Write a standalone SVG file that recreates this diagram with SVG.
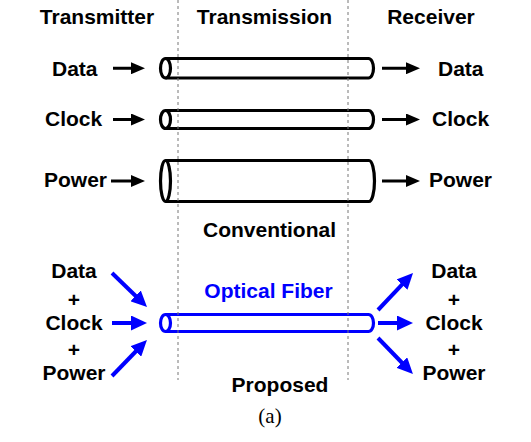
<svg xmlns="http://www.w3.org/2000/svg" width="531" height="442" viewBox="0 0 531 442">
  <style>
    .lbl { font-family: "Liberation Sans", Arial, sans-serif; font-weight: bold; font-size: 21px; fill: #000; }
    .mid { text-anchor: middle; }
    .blue { fill: #0000ff; }
    .pipe { fill: none; stroke: #000; stroke-width: 3.2; stroke-linejoin: round; }
    .fiber { fill: none; stroke: #0000ff; stroke-width: 3.2; stroke-linejoin: round; }
    .arr { stroke: #000; stroke-width: 3; fill: none; marker-end: url(#headK); }
    .barr { stroke: #0000ff; stroke-width: 4; fill: none; marker-end: url(#headB); }
    .divider { stroke: #777; stroke-width: 1; stroke-dasharray: 3 3; }
  </style>
  <defs>
    <marker id="headK" markerUnits="userSpaceOnUse" markerWidth="14" markerHeight="12" refX="2" refY="6" orient="auto">
      <path d="M0,0 L14,6 L0,12 z" fill="#000"/>
    </marker>
    <marker id="headB" markerUnits="userSpaceOnUse" markerWidth="16" markerHeight="15" refX="2" refY="7.5" orient="auto">
      <path d="M0,0 L16,7.5 L0,15 z" fill="#0000ff"/>
    </marker>
  </defs>
  <rect width="531" height="442" fill="#fff"/>

  <!-- column headings -->
  <text class="lbl mid" x="97" y="24">Transmitter</text>
  <text class="lbl mid" x="264.5" y="24">Transmission</text>
  <text class="lbl mid" x="431" y="24">Receiver</text>

  <!-- conventional: three separate channels -->
  <g id="pipe-data">
    <path class="pipe" d="M165.5,58.5 H368.5 A5,9.75 0 0 1 368.5,78 H165.5"/>
    <ellipse class="pipe" cx="165.5" cy="68.25" rx="5" ry="9.75"/>
  </g>
  <g id="pipe-clock">
    <path class="pipe" d="M165.5,110.5 H368.5 A5,9 0 0 1 368.5,128.5 H165.5"/>
    <ellipse class="pipe" cx="165.5" cy="119.5" rx="5" ry="9"/>
  </g>
  <g id="pipe-power">
    <path class="pipe" d="M165.5,160.5 H369 A5.5,20.5 0 0 1 369,201.5 H165.5"/>
    <ellipse class="pipe" cx="165.5" cy="181" rx="5" ry="20.5"/>
  </g>

  <!-- proposed: single optical fiber -->
  <g id="pipe-fiber">
    <path class="fiber" d="M165.5,314.5 H368.5 A5,8.5 0 0 1 368.5,331.5 H165.5"/>
    <ellipse class="fiber" cx="165.5" cy="323" rx="5" ry="8.5"/>
  </g>

  <!-- section dividers -->
  <g id="dividers">
    <line class="divider" x1="178" y1="0" x2="178" y2="380"/>
    <line class="divider" x1="348" y1="0" x2="348" y2="380"/>
  </g>

  <g id="tx-conventional">
    <text class="lbl" x="52" y="76">Data</text>
    <text class="lbl" x="45" y="126">Clock</text>
    <text class="lbl" x="44" y="187">Power</text>
  </g>
  <g id="rx-conventional">
    <text class="lbl" x="438" y="76">Data</text>
    <text class="lbl" x="432" y="126">Clock</text>
    <text class="lbl" x="429" y="187">Power</text>
  </g>

  <text class="lbl mid" x="269.5" y="237">Conventional</text>
  <text class="lbl mid blue" x="268.5" y="298">Optical Fiber</text>
  <text class="lbl mid" x="280" y="392">Proposed</text>

  <g id="tx-proposed">
    <text class="lbl mid" x="74" y="278">Data</text>
    <text class="lbl mid" x="74" y="307">+</text>
    <text class="lbl mid" x="74" y="330">Clock</text>
    <text class="lbl mid" x="74" y="357">+</text>
    <text class="lbl mid" x="74" y="380">Power</text>
  </g>
  <g id="rx-proposed">
    <text class="lbl mid" x="454" y="278">Data</text>
    <text class="lbl mid" x="454" y="307">+</text>
    <text class="lbl mid" x="454" y="330">Clock</text>
    <text class="lbl mid" x="454" y="357">+</text>
    <text class="lbl mid" x="454" y="380">Power</text>
  </g>

  <!-- connectors -->
  <g id="connectors">
    <line class="arr" x1="113" y1="68.25" x2="133" y2="68.25"/>
    <line class="arr" x1="113" y1="119.5" x2="133" y2="119.5"/>
    <line class="arr" x1="111" y1="181" x2="133" y2="181"/>
    <line class="arr" x1="382" y1="68.25" x2="408" y2="68.25"/>
    <line class="arr" x1="382" y1="119.5" x2="408" y2="119.5"/>
    <line class="arr" x1="382" y1="181" x2="408" y2="181"/>

    <line class="barr" x1="112" y1="273" x2="137" y2="297.3"/>
    <line class="barr" x1="112" y1="323" x2="133" y2="323"/>
    <line class="barr" x1="112" y1="376" x2="137.2" y2="350"/>
    <line class="barr" x1="378" y1="310" x2="403.4" y2="283.2"/>
    <line class="barr" x1="378" y1="323" x2="399" y2="323"/>
    <line class="barr" x1="378" y1="338" x2="403.2" y2="364"/>
  </g>

  <text x="270" y="423" text-anchor="middle" font-family="Liberation Serif, 'Times New Roman', serif" font-size="21">(a)</text>
</svg>
